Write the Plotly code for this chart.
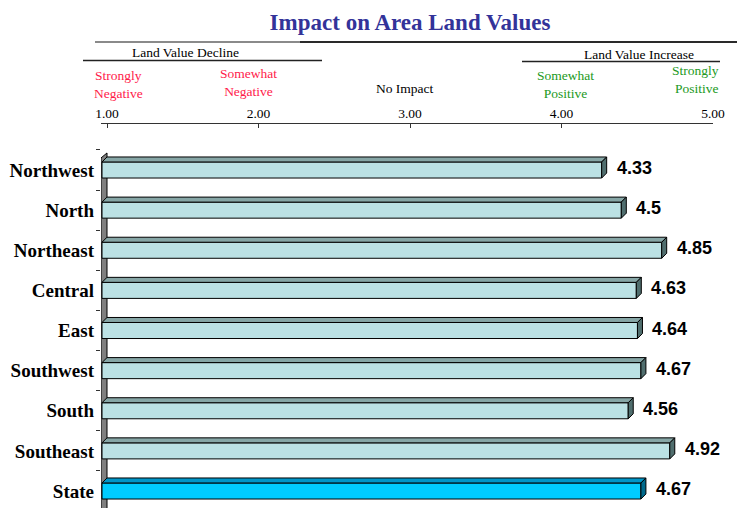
import plotly.graph_objects as go

# ---------------- data ----------------
regions = ["Northwest", "North", "Northeast", "Central", "East",
           "Southwest", "South", "Southeast", "State"]
ratings = [4.33, 4.5, 4.85, 4.63, 4.64, 4.67, 4.56, 4.92, 4.67]
scale_ticks = [1, 2, 3, 4, 5]
scale_tick_labels = ["1.00", "2.00", "3.00", "4.00", "5.00"]
scale_names = ["Strongly<br>Negative", "Somewhat<br>Negative", "No Impact",
               "Somewhat<br>Positive", "Strongly<br>Positive"]
scale_colors = ["#FF1A4A", "#FF1A4A", "#000000", "#229922", "#229922"]
group_names = ["Land Value Decline", "Land Value Increase"]
title_text = "Impact on Area Land Values"

# ---------------- geometry helpers ----------------
W, H = 737, 508
ML, MR, MT, MB = 101, 0, 124, 0
PW, PH = W - ML - MR, H - MT - MB
KX = 115.4        # px per rating unit (bars)
KY = 40.125       # px per category
X0 = -1.0 / KX
XR = [X0, X0 + PW / KX]
Y_TOP = (MT - 170) / KY
Y_BOT = (H - 170) / KY
DX = 5.0 / KX     # 3D depth
DY = 5.0 / KY
BW = 0.4


def pxx(x):
    return (x - ML) / PW


def pxy(y):
    return (H - y) / PH


idx = list(range(len(regions)))
front = ["#00CCFF" if r == "State" else "#BBE1E4" for r in regions]
topc = ["#0096C8" if r == "State" else "#86A6A6" for r in regions]
sidec = ["#006A8C" if r == "State" else "#506E6E" for r in regions]

fig = go.Figure()
fig.add_trace(go.Bar(
    x=ratings, y=idx, orientation="h", base=0, width=BW,
    marker=dict(color=front, line=dict(color="black", width=1)),
    hoverinfo="skip", showlegend=False, xaxis="x", yaxis="y"))

# invisible trace to activate the top scale axis
fig.add_trace(go.Scatter(x=[1, 5], y=[Y_TOP, Y_TOP], mode="markers",
                         marker=dict(opacity=0), xaxis="x2", yaxis="y",
                         hoverinfo="skip", showlegend=False))

shapes = []
# left 3D wall
shapes.append(dict(type="path", xref="x", yref="y", layer="below",
                   path=f"M {X0},{-0.3} L {X0 + 6.0 / KX},{-0.3 - DY} "
                        f"L {X0 + 6.0 / KX},{Y_BOT + 1} L {X0},{Y_BOT + 1} Z",
                   fillcolor="#808080", line=dict(color="black", width=1)))
for i, v in enumerate(ratings):
    yt = i - BW / 2
    yb = i + BW / 2
    shapes.append(dict(type="path", xref="x", yref="y", layer="above",
                       path=f"M 0,{yt} L {v},{yt} L {v + DX},{yt - DY} L {DX},{yt - DY} Z",
                       fillcolor=topc[i], line=dict(color="black", width=1)))
    shapes.append(dict(type="path", xref="x", yref="y", layer="above",
                       path=f"M {v},{yt} L {v + DX},{yt - DY} L {v + DX},{yb - DY} L {v},{yb} Z",
                       fillcolor=sidec[i], line=dict(color="black", width=1)))

# decorative header lines
shapes.append(dict(type="line", xref="paper", yref="paper",
                   x0=pxx(95), x1=pxx(300), y0=pxy(42), y1=pxy(42),
                   line=dict(color="#8A8A8A", width=2)))
shapes.append(dict(type="line", xref="paper", yref="paper",
                   x0=pxx(300), x1=pxx(737), y0=pxy(42), y1=pxy(42),
                   line=dict(color="#2A2A2A", width=2)))
shapes.append(dict(type="line", xref="paper", yref="paper",
                   x0=pxx(83), x1=pxx(322), y0=pxy(60.5), y1=pxy(60.5),
                   line=dict(color="#222222", width=1.5)))
shapes.append(dict(type="line", xref="paper", yref="paper",
                   x0=pxx(522), x1=pxx(720), y0=pxy(61.5), y1=pxy(61.5),
                   line=dict(color="#222222", width=1.5)))

ann = []
# value labels
for i, v in enumerate(ratings):
    ann.append(dict(x=v + DX, y=i, xref="x", yref="y", text=str(v),
                    showarrow=False, xanchor="left", yanchor="middle",
                    xshift=8, yshift=2,
                    font=dict(family="Liberation Sans", size=18,
                              color="black", weight="bold")))

# scale descriptions
name_pos = [(118, 84.5, "center"), (248, 82.5, "center"), (405, 88, "center"),
            (565, 84.5, "center"), (721, 79.5, "right")]
for (x, y, al), name, col in zip(name_pos, scale_names, scale_colors):
    ann.append(dict(x=pxx(x), y=pxy(y), xref="paper", yref="paper", text=name,
                    showarrow=False, xanchor="center" if al == "center" else "right",
                    yanchor="middle", align=al,
                    font=dict(family="Liberation Serif", size=13.5, color=col)))

ann.append(dict(x=pxx(185), y=pxy(52.5), xref="paper", yref="paper",
                text=group_names[0], showarrow=False, xanchor="center",
                yanchor="middle",
                font=dict(family="Liberation Serif", size=13.5, color="black")))
ann.append(dict(x=pxx(639), y=pxy(54.5), xref="paper", yref="paper",
                text=group_names[1], showarrow=False, xanchor="center",
                yanchor="middle",
                font=dict(family="Liberation Serif", size=13.5, color="black")))

fig.update_layout(
    width=W, height=H,
    margin=dict(l=ML, r=MR, t=MT, b=MB, pad=0, autoexpand=False),
    paper_bgcolor="white", plot_bgcolor="rgba(0,0,0,0)",
    showlegend=False, bargap=0,
    title=dict(text=title_text, x=410 / W, xanchor="center",
               y=1 - 22 / H, yanchor="middle", xref="container",
               yref="container",
               font=dict(family="Liberation Serif", size=23, color="#333399",
                         weight="bold")),
    xaxis=dict(range=XR, visible=False, fixedrange=True, automargin=False),
    xaxis2=dict(range=[1 - 6 / 151.5, 5], domain=[0, (713 - ML) / PW],
                anchor="y", side="top", showline=True, linecolor="#333333",
                linewidth=1, ticks="inside", ticklen=4, tickcolor="#333333",
                tickvals=scale_ticks, ticktext=scale_tick_labels,
                tickfont=dict(family="Liberation Serif", size=13.5, color="black"),
                showgrid=False, zeroline=False, automargin=False),
    yaxis=dict(range=[Y_BOT, Y_TOP], tickvals=idx, ticktext=regions,
               ticks="", showline=False, showgrid=False, zeroline=False,
               ticklabelstandoff=6, automargin=False,
               tickfont=dict(family="Liberation Serif", size=19, color="black",
                             weight="bold"),
               minor=dict(tickvals=[i - 0.5 for i in idx], ticks="outside",
                          ticklen=4, tickcolor="#333333", showgrid=False)),
    shapes=shapes, annotations=ann,
)

fig.write_html("out.html",
               config={"displayModeBar": False, "staticPlot": True},
               post_script="document.body.style.margin='0';"
                           "document.body.style.padding='0';")
